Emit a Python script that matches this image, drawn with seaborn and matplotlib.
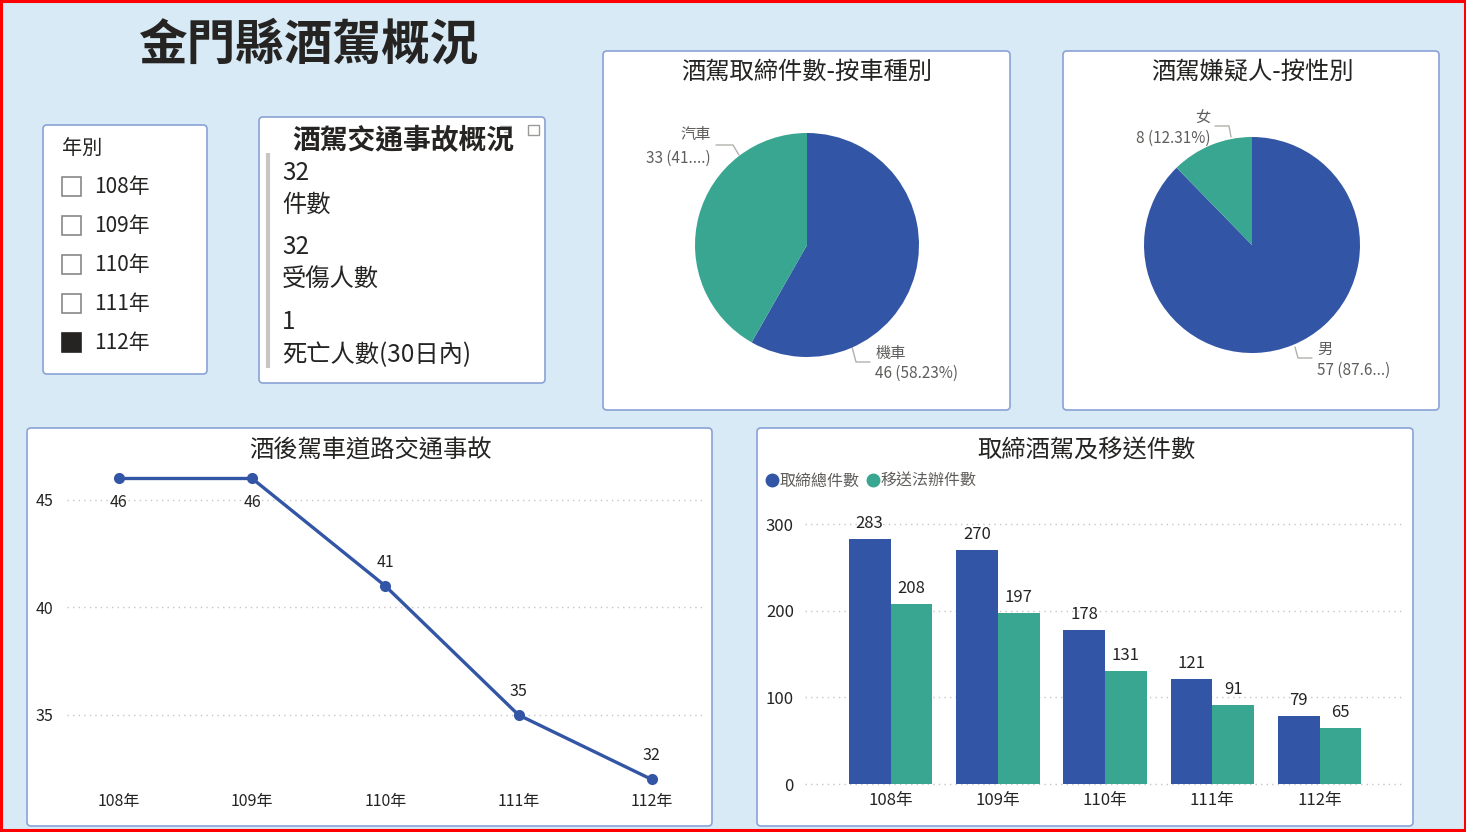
import numpy as np
import pandas as pd
import matplotlib
matplotlib.use('Agg')
import matplotlib.pyplot as plt
import seaborn as sns
from matplotlib.patches import FancyBboxPatch, Rectangle
from matplotlib.lines import Line2D

# ---------------- data ----------------
years = ['108年', '109年', '110年', '111年', '112年']
accidents = [46, 46, 41, 35, 32]
seized_total = [283, 270, 178, 121, 79]
transferred = [208, 197, 131, 91, 65]
bar_series = ['取締總件數', '移送法辦件數']

vehicle_types = ['機車', '汽車']
vehicle_counts = [46, 33]
vehicle_labels = ['46 (58.23%)', '33 (41....)']

genders = ['男', '女']
gender_counts = [57, 8]
gender_labels = ['57 (87.6...)', '8 (12.31%)']

kpi_values = ['32', '32', '1']
kpi_names = ['件數', '受傷人數', '死亡人數(30日內)']

slicer_title = '年別'
slicer_years = ['108年', '109年', '110年', '111年', '112年']
slicer_selected = [False, False, False, False, True]

main_title = '金門縣酒駕概況'
kpi_title = '酒駕交通事故概況'
pie1_title = '酒駕取締件數-按車種別'
pie2_title = '酒駕嫌疑人-按性別'
line_title = '酒後駕車道路交通事故'
bar_title = '取締酒駕及移送件數'

# ---------------- style ----------------
BLUE = '#3355A5'
TEAL = '#38A690'
BG = '#D7EAF5'
DARK = '#252423'
GRAY = '#605E5C'
GRID = '#C8C6C4'
EDGE = '#8AA2D6'

W, H = 1466, 832
sns.set_theme(style='white')
plt.rcParams['font.family'] = ['Noto Sans CJK TC', 'DejaVu Sans']

fig = plt.figure(figsize=(W / 100, H / 100), dpi=100)
fig.patch.set_facecolor(BG)

bg = fig.add_axes([0, 0, 1, 1])
bg.set_xlim(0, W)
bg.set_ylim(H, 0)
bg.axis('off')
bg.set_zorder(0)


def panel(x0, y0, x1, y1):
    bg.add_patch(FancyBboxPatch((x0, y0), x1 - x0, y1 - y0,
                                boxstyle='round,pad=0,rounding_size=4',
                                fc='white', ec=EDGE, lw=1.2))


def px_axes(x0, y0, x1, y1):
    ax = fig.add_axes([x0 / W, 1 - y1 / H, (x1 - x0) / W, (y1 - y0) / H])
    ax.set_facecolor('none')
    ax.set_zorder(2)
    return ax


# panels
panel(43, 125, 207, 374)
panel(259, 117, 545, 383)
panel(603, 51, 1010, 410)
panel(1063, 51, 1439, 410)
panel(27, 428, 712, 826)
panel(757, 428, 1413, 826)

# red outer border
bg.add_patch(Rectangle((1, 1), W - 2.5, H - 3, fill=False, ec='#FF0000', lw=2.2))

# main title
bg.text(308, 45, main_title, ha='center', va='center', fontsize=35,
        fontweight='bold', color=DARK)

# ---------------- slicer ----------------
bg.text(62, 149, slicer_title, ha='left', va='center', fontsize=14.5, color=DARK)
for i, (lab, sel) in enumerate(zip(slicer_years, slicer_selected)):
    yc = 186 + 39 * i
    bg.add_patch(Rectangle((62, yc - 9.5), 19, 19,
                           fc=DARK if sel else 'white',
                           ec=DARK if sel else '#8A8886', lw=1.2))
    bg.text(94, yc + 1, lab, ha='left', va='center', fontsize=15, color=DARK)

# ---------------- KPI card ----------------
bg.text(292, 141, kpi_title, ha='left', va='center', fontsize=20,
        fontweight='bold', color=DARK)
# header icons
for k, (a, b) in enumerate([(500, 511), (502, 509), (504, 507)]):
    bg.plot([a, b], [126 + 3 * k, 126 + 3 * k], color='#9C9A98', lw=1)
bg.add_patch(Rectangle((528, 125), 11, 10, fill=False, ec='#9C9A98', lw=1))
bg.plot([268, 268], [153, 368], color='#C8C6C4', lw=3, solid_capstyle='butt')
kpi_y = [(173, 205), (247, 280), (322, 355)]
for (v, n), (yv, yn) in zip(zip(kpi_values, kpi_names), kpi_y):
    bg.text(282, yv, v, ha='left', va='center', fontsize=17.5, color=DARK)
    bg.text(282, yn, n, ha='left', va='center', fontsize=17.5, color=DARK)

# ---------------- pies ----------------
def draw_pie(cx, cy, r, counts, title, tx):
    ax = px_axes(cx - r, cy - r, cx + r, cy + r)
    ax.pie(counts, colors=[BLUE, TEAL], startangle=90, counterclock=False,
           radius=1, wedgeprops=dict(lw=0))
    ax.set_xlim(-1, 1)
    ax.set_ylim(-1, 1)
    ax.axis('off')
    bg.text(tx, 72, title, ha='center', va='center', fontsize=17.5, color=DARK)


draw_pie(807, 245, 112, vehicle_counts, pie1_title, 807)
draw_pie(1252, 245, 108, gender_counts, pie2_title, 1252)

LFS = 11
LC = '#B3B0AD'
# pie 1 labels
bg.text(876, 353, vehicle_types[0], ha='left', va='center', fontsize=LFS, color=GRAY)
bg.text(875, 373, vehicle_labels[0], ha='left', va='center', fontsize=LFS, color=GRAY)
bg.plot([852, 856, 870], [347, 362, 362], color=LC, lw=1)
bg.text(711, 135, vehicle_types[1], ha='right', va='center', fontsize=LFS, color=GRAY)
bg.text(711, 158, vehicle_labels[1], ha='right', va='center', fontsize=LFS, color=GRAY)
bg.plot([716, 733, 739], [145, 145, 155], color=LC, lw=1)
# pie 2 labels
bg.text(1317, 349, genders[0], ha='left', va='center', fontsize=LFS, color=GRAY)
bg.text(1317, 370, gender_labels[0], ha='left', va='center', fontsize=LFS, color=GRAY)
bg.plot([1295, 1298, 1312], [347, 358, 358], color=LC, lw=1)
bg.text(1210, 118, genders[1], ha='right', va='center', fontsize=LFS, color=GRAY)
bg.text(1210, 138, gender_labels[1], ha='right', va='center', fontsize=LFS, color=GRAY)
bg.plot([1215, 1229, 1231], [126, 126, 137], color=LC, lw=1)

# ---------------- line chart ----------------
bg.text(370, 450, line_title, ha='center', va='center', fontsize=17.5, color=DARK)
axl = px_axes(67, 460, 705, 790)
df_line = pd.DataFrame({'year': years, 'count': accidents})
sns.lineplot(data=df_line, x='year', y='count', ax=axl, color=BLUE, lw=2.4,
             marker='o', markersize=8, markeredgewidth=0, sort=False)
axl.set_xlim(-0.39, 4.40)
axl.set_ylim(31.51, 46.86)
axl.set_yticks([35, 40, 45])
axl.set_xlabel('')
axl.set_ylabel('')
axl.yaxis.grid(True, ls=(0, (1, 3)), color=GRID, lw=1)
axl.xaxis.grid(False)
for s in axl.spines.values():
    s.set_visible(False)
axl.tick_params(axis='y', length=0, labelsize=11.5, labelcolor=DARK, pad=10)
axl.tick_params(axis='x', length=0, labelsize=11.5, labelcolor=DARK, pad=2)
top = axl.get_ylim()[1]
for i, v in enumerate(accidents):
    off = -17 if v > top - 1.5 else 17
    axl.annotate(str(v), (i, v), xytext=(0, off), textcoords='offset points',
                 ha='center', va='center', fontsize=11.5, color=DARK)

# ---------------- bar chart ----------------
bg.text(1086, 450, bar_title, ha='center', va='center', fontsize=17.5, color=DARK)
axb = px_axes(805, 505, 1403, 788)
df_bar = pd.DataFrame({
    'year': years * 2,
    'series': [bar_series[0]] * len(years) + [bar_series[1]] * len(years),
    'value': seized_total + transferred,
})
sns.barplot(data=df_bar, x='year', y='value', hue='series', palette=[BLUE, TEAL],
            width=0.78, saturation=1, ax=axb, legend=False, linewidth=0)
axb.set_xlim(-0.797, 4.777)
axb.set_ylim(-4.6, 322)
axb.set_yticks([0, 100, 200, 300])
axb.set_xlabel('')
axb.set_ylabel('')
axb.yaxis.grid(True, ls=(0, (1, 3)), color=GRID, lw=1)
axb.xaxis.grid(False)
axb.set_axisbelow(True)
for s in axb.spines.values():
    s.set_visible(False)
axb.tick_params(axis='y', length=0, labelsize=12, labelcolor=DARK, pad=8)
axb.tick_params(axis='x', length=0, labelsize=12, labelcolor=DARK, pad=3)
for c in axb.containers:
    axb.bar_label(c, padding=5, fontsize=12, color=DARK)

handles = [Line2D([], [], marker='o', ls='', color=BLUE, markersize=9),
           Line2D([], [], marker='o', ls='', color=TEAL, markersize=9)]
axb.legend(handles, bar_series, loc='center left',
           bbox_to_anchor=(764 / W, 1 - 481 / H), bbox_transform=fig.transFigure,
           ncol=2, frameon=False, handletextpad=0.0, columnspacing=0.3,
           fontsize=11.5, labelcolor=GRAY, handlelength=1.0, borderpad=0,
           borderaxespad=0)

fig.savefig('out.png', dpi=100, facecolor=BG)
